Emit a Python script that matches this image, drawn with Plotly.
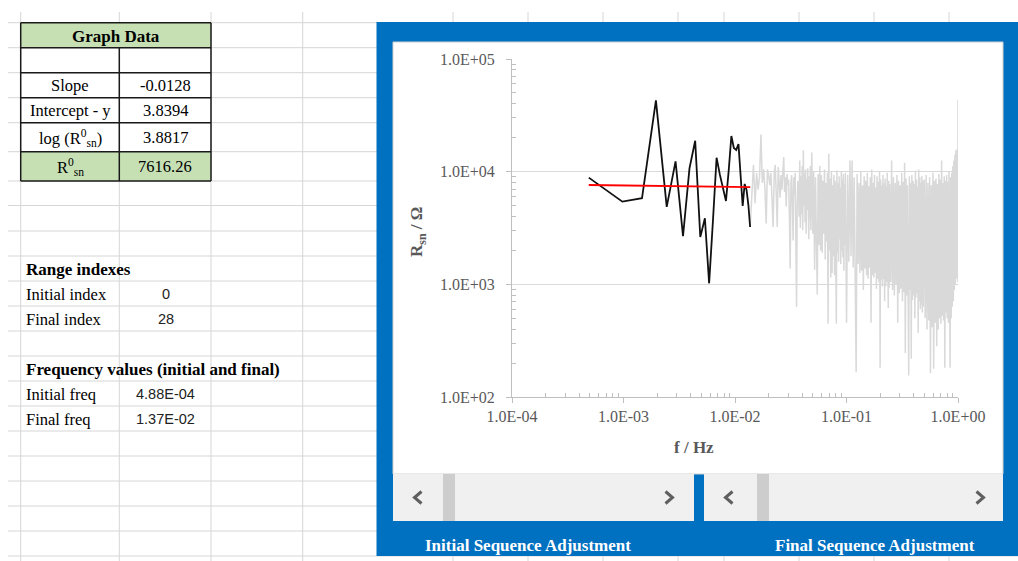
import math
import plotly.graph_objects as go

W, H = 1018, 561

# ---------------- data ----------------
table_labels = ["Slope", "Intercept - y", "log (R<sup>0</sup><sub>sn</sub>)", "R<sup>0</sup><sub>sn</sub>"]
table_values = ["-0.0128", "3.8394", "3.8817", "7616.26"]
slope = -0.0128
intercept = 3.8394
range_labels = ["Initial index", "Final index"]
range_values = ["0", "28"]
freq_labels = ["Initial freq", "Final freq"]
freq_values = [4.88e-4, 1.37e-2]
freq_texts = ["4.88E-04", "1.37E-02"]

n_points = 2048  # frequency grid: f = k / 2048 Hz

# selected (fitted) sequence, k = 1..28, values as log10(R / ohm)
fit_k = list(range(1, 29))
fit_log_r = [3.947, 3.734, 3.764, 4.632, 3.687, 4.092, 3.427, 4.030, 4.274, 3.420,
             3.586, 3.009, 3.571, 4.124, 3.971, 3.855, 3.740, 4.015, 4.317, 4.210,
             4.193, 4.246, 3.926, 3.695, 3.891, 3.838, 3.704, 3.509]

# rest of the spectrum (grey), read at selected k, values as log10(R / ohm)
grey_k = (list(range(28, 101)) + list(range(102, 201, 2)) + list(range(205, 501, 5))
          + list(range(510, 1001, 10)) + list(range(1020, 2041, 20)) + [2048])
grey_log_r = [
    3.51, 3.80, 4.06, 3.72, 3.99, 3.84, 3.95, 4.33, 3.90, 4.02,
    3.85, 3.54, 4.02, 3.97, 3.88, 3.99, 3.70, 3.51, 3.98, 4.06,
    3.80, 3.51, 4.04, 3.90, 3.77, 3.97, 3.84, 4.00, 4.13, 3.82,
    3.95, 3.69, 3.98, 3.88, 3.93, 3.60, 3.14, 3.90, 3.97, 3.72,
    3.39, 3.95, 3.80, 3.99, 3.55, 2.80, 3.70, 3.92, 3.84, 3.60,
    4.10, 3.50, 3.96, 3.62, 4.05, 3.48, 4.19, 3.70, 3.99, 3.55,
    4.02, 3.45, 3.94, 3.66, 4.03, 3.50, 3.40, 3.96, 3.58, 4.05,
    3.48, 3.92, 4.17,
    3.45, 4.00, 3.13, 3.95, 3.40, 2.91, 3.98, 3.35, 4.05, 3.30,
    3.97, 3.28, 3.92, 3.45, 4.02, 3.22, 3.90, 3.38, 3.99, 2.65,
    4.16, 3.30, 3.94, 3.06, 4.00, 3.10, 3.88, 3.25, 3.97, 3.08,
    3.92, 3.35, 2.65, 4.01, 3.28, 3.90, 3.20, 3.96, 3.40, 3.86,
    3.18, 4.00, 3.30, 3.93, 3.24, 3.98, 3.12, 3.89, 3.35, 3.99,
    2.66, 3.97, 3.20, 4.10, 3.25, 4.10, 3.15, 3.95, 3.10, 2.22,
    3.98, 3.18, 3.90, 3.10, 4.00, 3.12, 3.88, 2.95, 3.96, 3.14,
    3.92, 3.08, 3.99, 3.05, 3.87, 3.15, 3.95, 2.66, 4.02, 3.08,
    3.90, 3.06, 3.97, 3.10, 3.86, 2.96, 3.96, 3.05, 3.91, 3.02,
    4.00, 2.26, 3.93, 3.04, 3.88, 2.98, 3.97, 3.05, 3.90, 2.85,
    3.94, 2.98, 3.87, 3.02, 3.99, 2.95, 2.79, 3.92, 2.97, 3.89,
    3.02, 4.10, 2.95, 3.95, 2.90, 3.90, 3.00, 3.97, 2.66, 3.92,
    2.92, 3.88, 2.96, 3.99, 2.85, 3.91, 2.93, 4.08, 2.39, 3.94,
    2.90, 3.88, 2.88, 2.19, 3.96, 2.95, 3.90, 2.34, 3.97, 2.86,
    3.92, 2.90, 3.89, 2.70, 4.01, 2.88, 3.93, 2.92, 3.87, 2.57,
    4.02, 2.85, 3.95, 2.78, 3.90, 2.82, 3.96, 2.75, 3.92, 2.80,
    3.93, 2.70, 3.97, 2.60, 3.90, 2.68, 3.95, 2.21, 3.88, 2.62,
    3.99, 2.25, 3.92, 2.66, 3.94, 2.45, 3.89, 2.60, 3.98, 2.70,
    3.93, 2.65, 4.10, 2.72, 3.90, 2.68, 3.96, 2.26, 3.92, 2.75,
    3.97, 2.70, 3.91, 2.66, 4.00, 2.72, 2.26, 3.95, 2.70, 3.99,
    2.80, 4.05, 2.85, 4.10, 2.95, 4.15, 3.00, 4.19, 3.05, 4.12,
    4.20, 3.02,
    4.64,
]

x_tick_vals = [1e-4, 1e-3, 1e-2, 1e-1, 1.0]
x_tick_text = ["1.0E-04", "1.0E-03", "1.0E-02", "1.0E-01", "1.0E+00"]
y_tick_vals = [1e2, 1e3, 1e4, 1e5]
y_tick_text = ["1.0E+02", "1.0E+03", "1.0E+04", "1.0E+05"]

# ---------------- helpers ----------------
SERIF = "Liberation Serif"
shapes = []
annotations = []


def px(x):
    return x / W


def py(y):
    return 1 - y / H


def rect(x0, y0, x1, y1, fill, lc=None, lw=0):
    shapes.append(dict(type="rect", xref="paper", yref="paper", layer="below",
                       x0=px(x0), x1=px(x1), y0=py(y1), y1=py(y0),
                       fillcolor=fill, line=dict(width=lw, color=lc or fill)))


def seg(x0, y0, x1, y1, color, w=1):
    shapes.append(dict(type="line", xref="paper", yref="paper", layer="below",
                       x0=px(x0), x1=px(x1), y0=py(y0), y1=py(y1),
                       line=dict(color=color, width=w)))


def chevron(cx, cy, direction, color="#5f5f5f"):
    d = 3.5 * direction
    path = f"M {px(cx - d)} {py(cy - 6)} L {px(cx + d)} {py(cy)} L {px(cx - d)} {py(cy + 6)}"
    shapes.append(dict(type="path", xref="paper", yref="paper", layer="below", path=path,
                       line=dict(color=color, width=3)))


def text(x, y, s, size=16.5, bold=False, xanchor="center", color="#000000", family=SERIF, angle=0):
    if bold:
        s = f"<b>{s}</b>"
    annotations.append(dict(x=px(x), y=py(y), xref="paper", yref="paper", text=s,
                            showarrow=False, xanchor=xanchor, yanchor="middle",
                            textangle=angle,
                            font=dict(family=family, size=size, color=color)))


# ---------------- spreadsheet grid ----------------
GRID = "#d6d6d6"
row_lines = [22.7, 47.7, 72.7, 97.7, 122.7, 151.7, 181, 205.5, 231, 256, 281, 306, 331,
             356, 381, 406, 431, 456, 481, 506, 531, 556]
col_lines = [20.7, 119.3, 211, 302.7, 453, 528, 603, 678, 724, 799, 874, 949]
for yv in row_lines:
    seg(8, yv, W, yv, GRID, 1)
for xv in col_lines:
    seg(xv, 12, xv, H, GRID, 1)

# ---------------- Graph Data table ----------------
GREEN = "#c6e0b4"
rect(20.7, 22.7, 211, 47.7, GREEN)
rect(20.7, 151.7, 211, 181, GREEN)
tb = "#1a1a1a"
for yv in [22.7, 47.7, 72.7, 97.7, 122.7, 151.7, 181]:
    seg(20.7, yv, 211, yv, tb, 1.5)
seg(20.7, 22.7, 20.7, 181, tb, 1.5)
seg(211, 22.7, 211, 181, tb, 1.5)
seg(119.3, 47.7, 119.3, 181, tb, 1.5)

text(116, 36, "Graph Data", size=17, bold=True)
row_centers = [85.5, 110.5, 137.5, 166.5]
for lab, val, yc in zip(table_labels, table_values, row_centers):
    text(70, yc, lab)
    text(165, yc, val)

text(24, 269, "Range indexes", size=17, bold=True, xanchor="left")
for lab, val, yc in zip(range_labels, range_values, [294, 319]):
    text(24, yc, lab, xanchor="left")
    text(166, yc, val, size=14.5, family="Liberation Sans", color="#222222")

text(24, 369, "Frequency values (initial and final)", size=17, bold=True, xanchor="left")
for lab, val, yc in zip(freq_labels, freq_texts, [394, 419]):
    text(24, yc, lab, xanchor="left")
    text(165, yc, val, size=14.5, family="Liberation Sans", color="#222222")

# ---------------- blue panel ----------------
BLUE = "#0070c0"
rect(376.5, 22, W + 2, 556, BLUE)
rect(393, 42, 1003, 474, "#ffffff", lc="#d0d0d0", lw=1)
# scroll bars
for x0, x1, thumb, la, ra in [(393, 694, 443, 418, 669), (704, 1003, 757, 729, 980)]:
    rect(x0, 474, x1, 521, "#f0f0f0")
    rect(thumb, 474, thumb + 12, 521, "#cdcdcd")
    chevron(la, 497.5, -1)
    chevron(ra, 497.5, 1)

text(528, 545, "Initial Sequence Adjustment", size=17, bold=True, color="#ffffff")
text(875, 545, "Final Sequence Adjustment", size=17, bold=True, color="#ffffff")

# ---------------- chart ----------------
fit_f = [k / n_points for k in fit_k]
fit_r = [10 ** v for v in fit_log_r]
grey_f = [k / n_points for k in grey_k]
grey_r = [10 ** v for v in grey_log_r]
red_f = freq_values
red_r = [10 ** (intercept + slope * math.log10(f)) for f in red_f]

fig = go.Figure()
fig.add_trace(go.Scatter(x=grey_f, y=grey_r, mode="lines",
                         line=dict(color="#d9d9d9", width=1.5), hoverinfo="skip"))
fig.add_trace(go.Scatter(x=fit_f, y=fit_r, mode="lines",
                         line=dict(color="#111111", width=1.8)))
fig.add_trace(go.Scatter(x=red_f, y=red_r, mode="lines",
                         line=dict(color="#ff0000", width=1.8)))

text(694, 447, "f / Hz", size=17, bold=True, color="#595959")
text(418, 232, "R<sub>sn</sub> / Ω", size=17, bold=True, color="#595959", angle=-90)

minor_x = [m * 10 ** e for e in range(-4, 0) for m in range(2, 10)]
minor_y = [m * 10 ** e for e in range(2, 5) for m in range(2, 10)]
AX = "#bfbfbf"
tickfont = dict(family=SERIF, size=16, color="#595959")

fig.update_layout(
    template="none",
    width=W, height=H, autosize=False,
    margin=dict(l=0, r=0, t=0, b=0, pad=0, autoexpand=False),
    paper_bgcolor="#ffffff",
    plot_bgcolor="rgba(0,0,0,0)",
    showlegend=False,
    shapes=shapes,
    annotations=annotations,
    xaxis=dict(type="log", range=[-4, 0], domain=[512 / W, 958 / W], automargin=False,
               showline=True, linecolor=AX, linewidth=1, zeroline=False, showgrid=False,
               tickmode="array", tickvals=x_tick_vals, ticktext=x_tick_text,
               ticks="outside", ticklen=5, tickcolor=AX, tickfont=tickfont,
               ticklabelstandoff=0,
               minor=dict(tickmode="array", tickvals=minor_x, ticks="inside", ticklen=4,
                          tickcolor=AX, showgrid=False)),
    yaxis=dict(type="log", range=[2, 5], domain=[1 - 397 / H, 1 - 59 / H], automargin=False,
               showline=True, linecolor=AX, linewidth=1, zeroline=False,
               showgrid=True, gridcolor="#d9d9d9", gridwidth=1,
               tickmode="array", tickvals=y_tick_vals, ticktext=y_tick_text,
               ticks="outside", ticklen=5, tickcolor=AX, tickfont=tickfont,
               ticklabelstandoff=8,
               minor=dict(tickmode="array", tickvals=minor_y, ticks="inside", ticklen=4,
                          tickcolor=AX, showgrid=False)),
)

fig.write_html(
    "out.html",
    config={"displayModeBar": False, "staticPlot": True},
    post_script="document.body.style.margin='0';document.body.style.overflow='hidden';"
                "document.documentElement.style.overflow='hidden';",
)
